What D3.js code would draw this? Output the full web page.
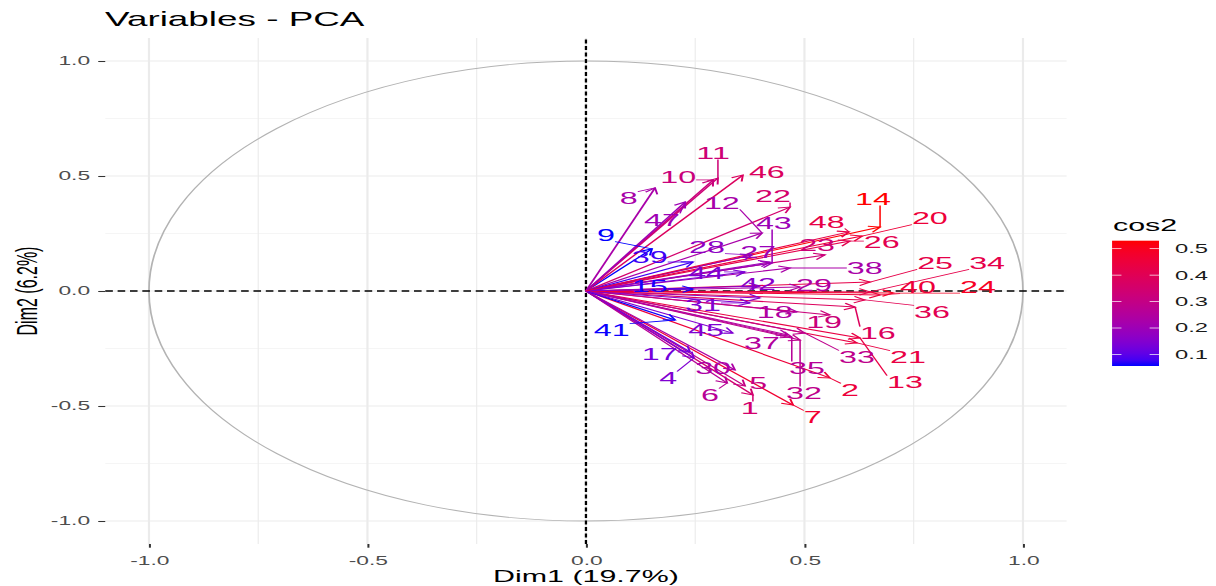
<!DOCTYPE html>
<html>
<head>
<meta charset="utf-8">
<script src="https://cdn.jsdelivr.net/npm/d3@7"></script>
<style>
  html, body { margin: 0; padding: 0; background: #fff; }
  svg { display: block; }
</style>
</head>
<body>
<svg id="pca_var"></svg>
<script>
// variable names and coordinates on Dim1 / Dim2
var varNames = ["1","2","3","4","5","6","7","8","9","10","11","12","13","14","15","16",
  "17","18","19","20","21","22","23","24","25","26","27","28","29","30","31","32",
  "33","34","35","36","37","38","39","40","41","42","43","44","45","46","47","48"];
var dim1 = [0.382,0.558,0.398,0.247,0.364,0.323,0.474,0.158,0.151,0.291,0.302,0.403,0.627,0.673,0.245,0.616,
  0.238,0.483,0.558,0.632,0.620,0.467,0.547,0.703,0.650,0.604,0.421,0.380,0.490,0.341,0.375,0.490,
  0.501,0.650,0.471,0.638,0.462,0.467,0.245,0.673,0.204,0.398,0.426,0.364,0.336,0.359,0.227,0.602];
var dim2 = [-0.452,-0.378,-0.030,-0.291,-0.413,-0.400,-0.496,0.448,0.183,0.483,0.491,0.252,-0.204,0.278,0.009,-0.070,
  -0.265,-0.091,-0.104,0.239,-0.226,0.365,0.157,-0.009,0.039,0.217,0.126,0.157,0.017,-0.343,-0.052,-0.213,
  -0.183,-0.004,-0.200,-0.039,-0.191,0.100,0.126,-0.017,-0.126,0.022,0.122,0.083,-0.183,0.504,0.387,0.257];
// where the (repelled) labels sit, in the same units; null = label dropped
var labelX = [0.375,0.604,null,0.188,0.394,0.284,0.519,0.098,0.046,0.211,0.291,0.311,0.730,0.657,0.146,0.668,
  0.169,0.432,0.545,0.787,0.737,0.428,0.529,0.897,0.799,0.677,0.394,0.277,0.522,0.291,0.268,0.499,
  0.620,0.918,0.506,0.792,0.403,0.638,0.146,0.760,0.059,0.394,0.430,0.275,0.275,0.414,0.174,0.551];
var labelY = [-0.509,-0.430,null,-0.378,-0.400,-0.452,-0.548,0.404,0.243,0.496,0.600,0.383,-0.396,0.400,0.022,-0.183,
  -0.274,-0.091,-0.135,0.317,-0.287,0.413,0.200,0.017,0.122,0.213,0.170,0.191,0.026,-0.335,-0.061,-0.443,
  -0.287,0.122,-0.335,-0.091,-0.226,0.100,0.148,0.017,-0.170,0.030,0.296,0.078,-0.170,0.517,0.309,0.300];

var axisTicks = [-1, -0.5, 0, 0.5, 1];
var axisTickLabels = ["-1.0", "-0.5", "0.0", "0.5", "1.0"];
var minorTicks = [-0.75, -0.25, 0.25, 0.75];
var legendTicks = [0.1, 0.2, 0.3, 0.4, 0.5];
var legendTickLabels = ["0.1", "0.2", "0.3", "0.4", "0.5"];

var titleText = "Variables - PCA";
var xTitle = "Dim1 (19.7%)";
var yTitle = "Dim2 (6.2%)";
var legendTitle = "cos2";

// the picture is a 640 wide ggplot stretched to 1216, so draw at 640 and stretch
var W = 640, H = 586;
var font = "'Liberation Sans', Arial, Helvetica, sans-serif";

var svg = d3.select("#pca_var")
  .attr("width", 1216)
  .attr("height", H)
  .attr("viewBox", "0 0 " + W + " " + H)
  .attr("preserveAspectRatio", "none")
  .style("font-family", font);

var x = d3.scaleLinear().domain([-1.1, 1.1]).range([55.4, 561.4]);
var y = d3.scaleLinear().domain([-1.1, 1.1]).range([544, 38]);

// cos2 = squared cosine on the plane Dim1-Dim2
var data = varNames.map(function(n, i) {
  return { name: n, x: dim1[i], y: dim2[i], lx: labelX[i], ly: labelY[i],
           cos2: dim1[i] * dim1[i] + dim2[i] * dim2[i] };
});
var cExtent = d3.extent(data, function(d) { return d.cos2; });
var color = d3.scaleLinear().domain(cExtent).range(["blue", "red"]).interpolate(d3.interpolateLab);

// grid
var grid = svg.append("g");
grid.selectAll(".vminor").data(minorTicks).enter().append("line")
  .attr("x1", function(d) { return x(d); }).attr("x2", function(d) { return x(d); })
  .attr("y1", y.range()[0]).attr("y2", y.range()[1])
  .attr("stroke", "#EBEBEB").attr("stroke-width", 0.6);
grid.selectAll(".hminor").data(minorTicks).enter().append("line")
  .attr("y1", function(d) { return y(d); }).attr("y2", function(d) { return y(d); })
  .attr("x1", x.range()[0]).attr("x2", x.range()[1])
  .attr("stroke", "#EBEBEB").attr("stroke-width", 0.6);
grid.selectAll(".vmajor").data(axisTicks).enter().append("line")
  .attr("x1", function(d) { return x(d); }).attr("x2", function(d) { return x(d); })
  .attr("y1", y.range()[0]).attr("y2", y.range()[1])
  .attr("stroke", "#EBEBEB").attr("stroke-width", 1.15);
grid.selectAll(".hmajor").data(axisTicks).enter().append("line")
  .attr("y1", function(d) { return y(d); }).attr("y2", function(d) { return y(d); })
  .attr("x1", x.range()[0]).attr("x2", x.range()[1])
  .attr("stroke", "#EBEBEB").attr("stroke-width", 1.15);

// correlation circle
svg.append("circle")
  .attr("cx", x(0)).attr("cy", y(0)).attr("r", x(1) - x(0))
  .attr("fill", "none").attr("stroke", "#B3B3B3").attr("stroke-width", 0.9);

// dashed axes through 0
svg.append("line")
  .attr("x1", x.range()[0]).attr("x2", x.range()[1]).attr("y1", y(0)).attr("y2", y(0))
  .attr("stroke", "#000").attr("stroke-width", 1.5).attr("stroke-dasharray", "4,2.5");
svg.append("line")
  .attr("x1", x(0)).attr("x2", x(0)).attr("y1", y.range()[0]).attr("y2", y.range()[1])
  .attr("stroke", "#000").attr("stroke-width", 1.2).attr("stroke-dasharray", "4,2.5");

// arrows
var headLen = 6.5, headAng = Math.PI / 6;
function headPath(d) {
  var tx = x(d.x), ty = y(d.y);
  var a = Math.atan2(ty - y(0), tx - x(0));
  var p1 = [tx - headLen * Math.cos(a - headAng), ty - headLen * Math.sin(a - headAng)];
  var p2 = [tx - headLen * Math.cos(a + headAng), ty - headLen * Math.sin(a + headAng)];
  return "M" + p1[0] + "," + p1[1] + "L" + tx + "," + ty + "L" + p2[0] + "," + p2[1];
}
var arrows = svg.append("g").attr("fill", "none").attr("stroke-width", 1.05);
arrows.selectAll(".shaft").data(data).enter().append("line")
  .attr("x1", x(0)).attr("y1", y(0))
  .attr("x2", function(d) { return x(d.x); })
  .attr("y2", function(d) { return y(d.y); })
  .attr("stroke", function(d) { return color(d.cos2); });
arrows.selectAll(".head").data(data).enter().append("path")
  .attr("d", headPath)
  .attr("stroke", function(d) { return color(d.cos2); });

// labels with leader segments (ggrepel style)
var labelled = data.filter(function(d) { return d.lx !== null; });
var fs = 17;
function nearest(d) {
  var lx = x(d.lx), ly = y(d.ly);
  var w2 = d.name.length * 0.556 * fs / 2, h2 = 6.5;
  var tx = x(d.x), ty = y(d.y);
  var cx = Math.max(lx - w2, Math.min(tx, lx + w2));
  var cy = Math.max(ly - h2, Math.min(ty, ly + h2));
  return [cx, cy, Math.hypot(tx - cx, ty - cy)];
}
svg.append("g").selectAll("line")
  .data(labelled.filter(function(d) { return nearest(d)[2] > 4; }))
  .enter().append("line")
  .attr("x1", function(d) { return x(d.x); })
  .attr("y1", function(d) { return y(d.y); })
  .attr("x2", function(d) { return nearest(d)[0]; })
  .attr("y2", function(d) { return nearest(d)[1]; })
  .attr("stroke", function(d) { return color(d.cos2); })
  .attr("stroke-width", 0.8);
svg.append("g").selectAll("text").data(labelled).enter().append("text")
  .attr("x", function(d) { return x(d.lx); })
  .attr("y", function(d) { return y(d.ly); })
  .attr("dy", "0.36em")
  .attr("text-anchor", "middle")
  .attr("font-size", fs)
  .attr("fill", function(d) { return color(d.cos2); })
  .text(function(d) { return d.name; });

// axes
var gx = svg.append("g").attr("transform", "translate(0," + y.range()[0] + ")")
  .call(d3.axisBottom(x).tickValues(axisTicks)
    .tickFormat(function(d, i) { return axisTickLabels[i]; })
    .tickSize(3.7).tickSizeOuter(0).tickPadding(8.8));
gx.select(".domain").remove();
gx.attr("font-family", font).attr("font-size", 12);
gx.selectAll("line").attr("stroke", "#333333").attr("stroke-width", 1.07);
gx.selectAll("text").attr("fill", "#4D4D4D");

var gy = svg.append("g").attr("transform", "translate(" + x.range()[0] + ",0)")
  .call(d3.axisLeft(y).tickValues(axisTicks)
    .tickFormat(function(d, i) { return axisTickLabels[i]; })
    .tickSize(3.7).tickSizeOuter(0).tickPadding(4.3));
gy.select(".domain").remove();
gy.attr("font-family", font).attr("font-size", 12);
gy.selectAll("line").attr("stroke", "#333333").attr("stroke-width", 1.07);
gy.selectAll("text").attr("fill", "#4D4D4D");

// titles
svg.append("text").attr("x", 55.3).attr("y", 26)
  .attr("font-size", 19.4).attr("fill", "#000").text(titleText);
svg.append("text").attr("x", (x.range()[0] + x.range()[1]) / 2).attr("y", 582)
  .attr("text-anchor", "middle").attr("font-size", 16).attr("fill", "#000").text(xTitle);
svg.append("text")
  .attr("transform", "translate(19.5," + (y.range()[0] + y.range()[1]) / 2 + ") rotate(-90)")
  .attr("text-anchor", "middle").attr("font-size", 16).attr("fill", "#000").text(yTitle);

// colour bar legend
var barX = 585.3, barW = 24.7, barTop = 240.7, barBot = 366;
var ly = d3.scaleLinear().domain(cExtent).range([barBot, barTop]);
var grad = svg.append("defs").append("linearGradient")
  .attr("id", "cosgrad").attr("x1", 0).attr("y1", 1).attr("x2", 0).attr("y2", 0);
d3.range(0, 1.0001, 0.05).forEach(function(t) {
  grad.append("stop").attr("offset", t)
    .attr("stop-color", color(cExtent[0] + t * (cExtent[1] - cExtent[0])));
});
svg.append("rect").attr("x", barX).attr("y", barTop)
  .attr("width", barW).attr("height", barBot - barTop)
  .attr("fill", "url(#cosgrad)");
var lt = svg.append("g").attr("stroke", "#fff").attr("stroke-width", 0.7);
legendTicks.forEach(function(v) {
  lt.append("line").attr("x1", barX).attr("x2", barX + barW / 5).attr("y1", ly(v)).attr("y2", ly(v));
  lt.append("line").attr("x1", barX + barW * 4 / 5).attr("x2", barX + barW).attr("y1", ly(v)).attr("y2", ly(v));
});
svg.append("g").selectAll("text").data(legendTicks).enter().append("text")
  .attr("x", 618.4).attr("y", function(d) { return ly(d); }).attr("dy", "0.35em")
  .attr("font-size", 12.5).attr("fill", "#1A1A1A")
  .text(function(d, i) { return legendTickLabels[i]; });
svg.append("text").attr("x", 585.8).attr("y", 231.5)
  .attr("font-size", 16).attr("fill", "#000").text(legendTitle);
</script>
</body>
</html>
